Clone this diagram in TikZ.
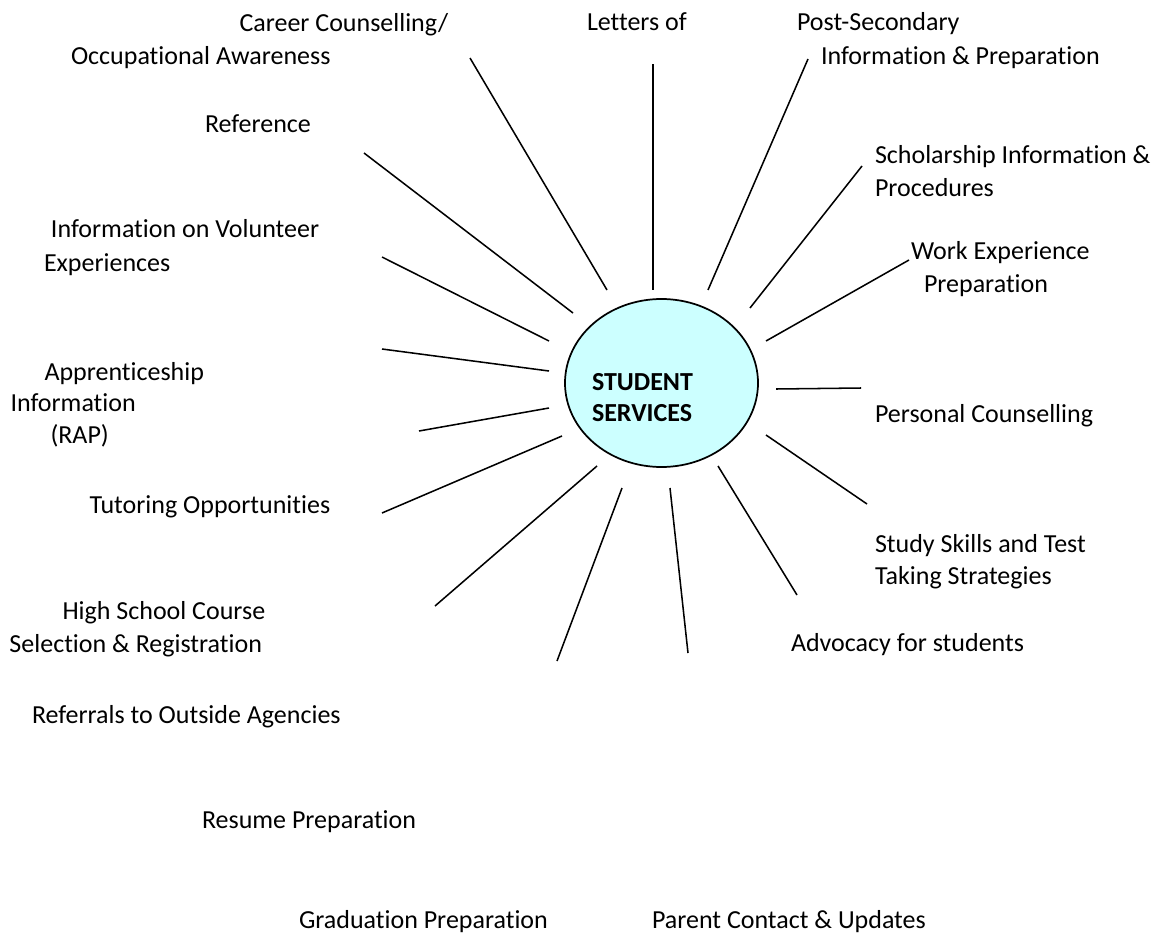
\documentclass[tikz,border=0pt]{standalone}
\usepackage{fontspec}
\setmainfont{Carlito}[Ligatures={NoCommon},Contextuals={NoAlternate}]
\usetikzlibrary{shapes.geometric}
\definecolor{hubfill}{HTML}{CCFFFF}
\newcommand{\mlines}[1]{\begin{tabular}[t]{@{}l@{}}#1\end{tabular}}
\tikzset{
  lbl/.style={anchor=base west, inner sep=0pt, outer sep=0pt, font=\fontsize{19.5pt}{24.75pt}\selectfont},
  ray/.style={draw=black, line width=1.15pt},
  hubshape/.style={ellipse, draw=black, line width=1.3pt, fill=hubfill, minimum width=144.75pt, minimum height=126pt, inner sep=0pt},
  hubtxt/.style={anchor=base west, inner sep=0pt, outer sep=0pt, font=\fontsize{19.5pt}{23.25pt}\selectfont\bfseries}
}
\begin{document}
\begin{tikzpicture}[x=0.75pt,y=-0.75pt]
\fill[white] (0,0) rectangle (1160,935);
\useasboundingbox (0,0) rectangle (1160,935);

% hub
\node[hubshape] (hub) at (661.5,383) {};
\node[hubtxt] (hubtext) at (592,390) {\mlines{STUDENT\\SERVICES}};

% labels
\node[lbl] (career) at (71,31.5) {\mlines{\hspace*{126.4pt}Career Counselling/\\[0.25pt]Occupational Awareness}};
\node[lbl] (letters) at (587,31) {Letters of};
\node[lbl] (postsec) at (797,31) {\mlines{Post-Secondary\\\hspace*{18pt}Information \& Preparation}};
\node[lbl] (reference) at (205,132) {Reference};
\node[lbl] (scholar) at (875,163) {\mlines{Scholarship Information \&\\Procedures}};
\node[lbl] (volunteer) at (44,237) {\mlines{\hspace*{5.25pt}Information on Volunteer\\[0.75pt]Experiences}};
\node[lbl] (work) at (911,259) {\mlines{Work Experience\\\hspace*{9.75pt}Preparation}};
\node[lbl] (appren) at (10.5,380) {\mlines{\hspace*{25.5pt}Apprenticeship\\[-1pt]Information\\[-1pt]\hspace*{30pt}(RAP)}};
\node[lbl] (personal) at (875,422) {Personal Counselling};
\node[lbl] (tutor) at (89.5,513) {Tutoring Opportunities};
\node[lbl] (study) at (875,552) {\mlines{Study Skills and Test\\[-0.75pt]Taking Strategies}};
\node[lbl] (highschool) at (9.5,619) {\mlines{\hspace*{39.75pt}High School Course\\[0.5pt]Selection \& Registration}};
\node[lbl] (advocacy) at (791,651) {Advocacy for students};
\node[lbl] (referrals) at (32,723) {Referrals to Outside Agencies};
\node[lbl] (resume) at (202,828) {Resume Preparation};
\node[lbl] (graduation) at (299,928) {Graduation Preparation};
\node[lbl] (parent) at (652,928) {Parent Contact \& Updates};

% ray end points
\coordinate (c1a) at (470,58);  \coordinate (c1b) at (607,290);
\coordinate (c2a) at (653,64);  \coordinate (c2b) at (653,290);
\coordinate (c3a) at (808,59);  \coordinate (c3b) at (708,290);
\coordinate (c4a) at (364,153); \coordinate (c4b) at (573,313);
\coordinate (c5a) at (862,166); \coordinate (c5b) at (750,308);
\coordinate (c6a) at (382,257); \coordinate (c6b) at (549,341);
\coordinate (c7a) at (909,260); \coordinate (c7b) at (766,341);
\coordinate (c8a) at (382,349); \coordinate (c8b) at (549,371);
\coordinate (c9a) at (861,388); \coordinate (c9b) at (776,389);
\coordinate (c10a) at (419,431); \coordinate (c10b) at (549,408);
\coordinate (c11a) at (382,513); \coordinate (c11b) at (562,436);
\coordinate (c12a) at (867,504); \coordinate (c12b) at (766,435);
\coordinate (c13a) at (435,606); \coordinate (c13b) at (597,466);
\coordinate (c14a) at (797,595); \coordinate (c14b) at (718,466);
\coordinate (c15a) at (557,661); \coordinate (c15b) at (622,488);
\coordinate (c16a) at (688,653); \coordinate (c16b) at (670,488);

\foreach \i in {1,...,16} { \draw[ray] (c\i a) -- (c\i b); }
\end{tikzpicture}
\end{document}
